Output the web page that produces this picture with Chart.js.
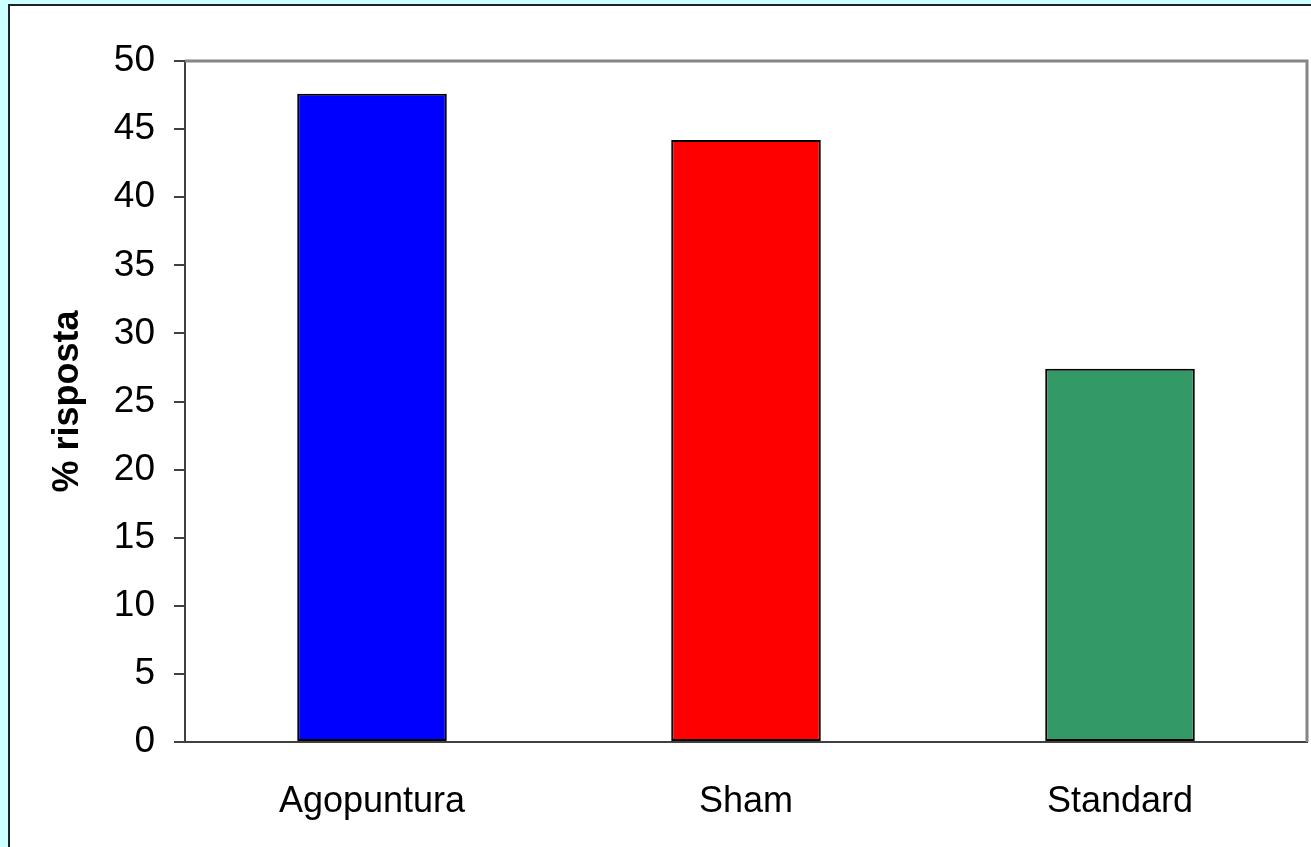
<!DOCTYPE html>
<html>
<head>
<meta charset="utf-8">
<script src="https://cdn.jsdelivr.net/npm/chart.js@4.4.0/dist/chart.umd.min.js"></script>
<style>
  html, body { margin: 0; padding: 0; background: #ccffff; overflow: hidden; }
  #panel { position: absolute; left: 8px; top: 4px; width: 1330px; height: 870px;
           background: #fff; border: 2px solid #222; }
  #wrap { position: absolute; left: 0; top: 0; width: 1311px; height: 847px; }
</style>
</head>
<body>
<div id="panel"></div>
<div id="wrap"><canvas id="myChart"></canvas></div>
<script>
var categories = ['Agopuntura', 'Sham', 'Standard']
var risposta = [47.6, 44.2, 27.4]
var barColors = ['#0000ff', '#ff0000', '#339966']
var yTicks = [0, 5, 10, 15, 20, 25, 30, 35, 40, 45, 50]

// gray frame on the top and right edge of the plot area
var plotFrame = {
  id: 'plotFrame',
  afterDatasetsDraw: function (chart) {
    var a = chart.chartArea
    var c = chart.ctx
    c.save()
    c.strokeStyle = '#858585'
    c.lineWidth = 3
    c.beginPath()
    c.moveTo(a.left, a.top)
    c.lineTo(a.right, a.top)
    c.lineTo(a.right, a.bottom)
    c.stroke()
    c.restore()
  }
}

var ctx = document.getElementById('myChart').getContext('2d');
var chart = new Chart(ctx, {
  type: 'bar',
  data: {
    labels: categories,
    datasets: [{
      label: '% risposta',
      data: risposta,
      backgroundColor: barColors,
      borderColor: '#000',
      borderWidth: 2,
      borderSkipped: false,
      barPercentage: 1,
      categoryPercentage: 0.4
    }]
  },
  plugins: [plotFrame],
  options: {
    responsive: true,
    maintainAspectRatio: false,
    animation: false,
    layout: { padding: { top: 61, right: 4, left: 0, bottom: 0 } },
    plugins: { legend: { display: false }, tooltip: { enabled: false } },
    scales: {
      x: {
        grid: { display: false },
        border: { display: true, color: '#404040', width: 2 },
        ticks: { color: '#000', padding: 30, font: { family: 'Liberation Sans', size: 36 } },
        afterFit: function (scale) { scale.height = 105 }
      },
      y: {
        min: 0,
        max: 50,
        afterBuildTicks: function (scale) {
          scale.ticks = yTicks.map(v => ({ value: v }))
        },
        grid: { drawOnChartArea: false, tickLength: 11, color: '#404040', lineWidth: 2 },
        border: { display: true, color: '#404040', width: 2 },
        ticks: { color: '#000', padding: 19, font: { family: 'Liberation Sans', size: 37 } },
        title: {
          display: true,
          text: '% risposta',
          color: '#000',
          padding: { top: 46, bottom: 0 },
          font: { family: 'Liberation Sans', size: 36, weight: 'bold' }
        },
        afterFit: function (scale) { scale.width = 185 }
      }
    }
  }
});
</script>
</body>
</html>
